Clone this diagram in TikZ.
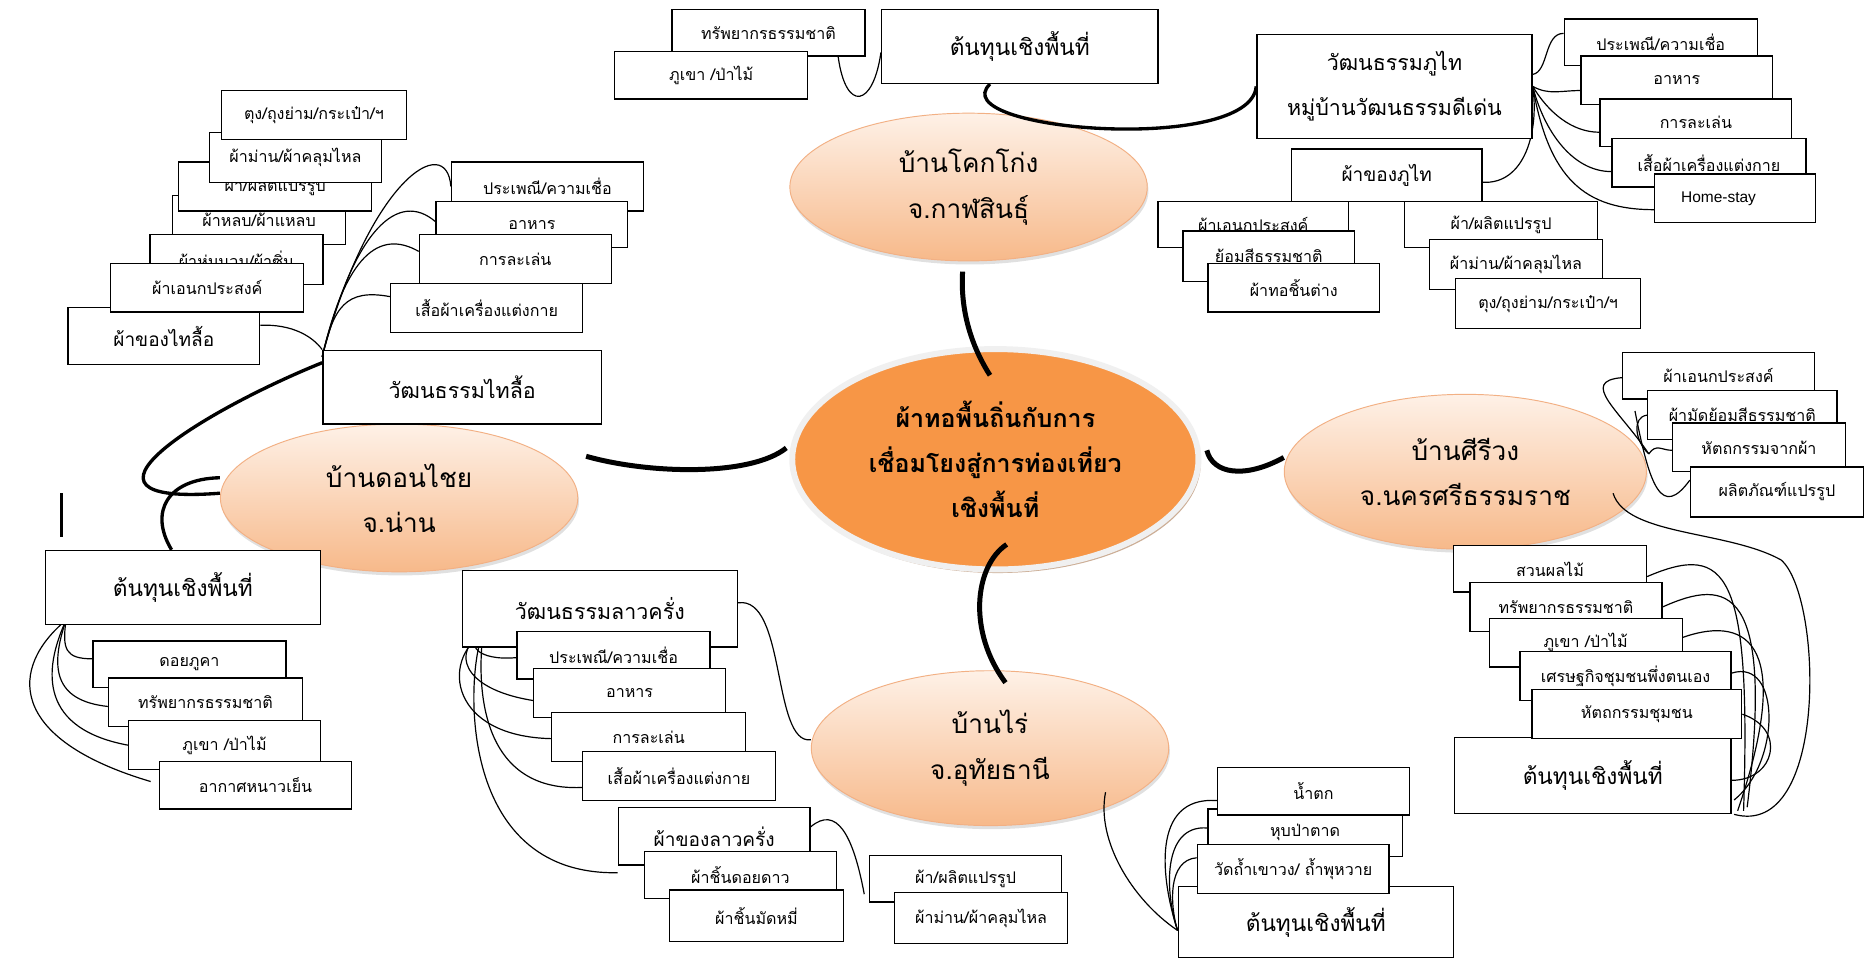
\documentclass[tikz,border=0pt]{standalone}
\usepackage{fontspec}
\usetikzlibrary{shapes.geometric,shadows}
\newfontfamily\thai[Script=Thai]{Loma}
\newfontfamily\lat{Liberation Sans}
\definecolor{peachtop}{HTML}{FEF1E7}
\definecolor{peachbot}{HTML}{F7B98A}
\definecolor{peachline}{HTML}{F2B084}
\definecolor{ctrorange}{HTML}{F79646}
\definecolor{ringc}{HTML}{F0F0F0}
\definecolor{shad}{HTML}{C09A7C}
\pgfdeclarelayer{bgw}
\pgfdeclarelayer{ell}
\pgfdeclarelayer{con}
\pgfsetlayers{bgw,ell,con,main}
\newcommand\bx[7][]{\node[box,minimum width={#4-#2},minimum height={#5-#3},#1] (#7) at ({(#2+#4)/2},{(#3+#5)/2}) {#6};}
\tikzset{
  box/.style={draw=black,line width=1.1pt,fill=white,inner sep=0pt,font=\thai\fontsize{13.5}{16}\selectfont},
  bigt/.style={font=\thai\fontsize{19}{24}\selectfont},
  midt/.style={font=\thai\fontsize{16}{20}\selectfont},
  cult/.style={font=\thai\fontsize{18}{38}\selectfont,align=center},
  peach/.style={ellipse,draw=peachline,line width=0.8pt,top color=peachtop,bottom color=peachbot,inner sep=0pt,align=center,font=\thai\fontsize{22}{38}\selectfont,drop shadow={shadow xshift=1pt,shadow yshift=-3pt,fill=black,opacity=0.12}},
  ctrell/.style={ellipse,fill=ctrorange,draw=ringc,line width=5pt,inner sep=0pt,align=center,font=\thai\bfseries\fontsize{21}{38}\selectfont,drop shadow={shadow xshift=2pt,shadow yshift=-3pt,fill=shad,opacity=0.8}},
  thn/.style={draw=black,line width=1pt},
  thk/.style={draw=black,line width=4.2pt},
  mthk/.style={draw=black,line width=2.8pt},
}
\begin{document}
\begin{tikzpicture}[x=1pt,y=-1pt]
\useasboundingbox (0,0) rectangle (1568,806);
\begin{pgfonlayer}{bgw}
\fill[white] (0,0) rectangle (1568,806);
\end{pgfonlayer}
\begin{pgfonlayer}{ell}
\node[peach,minimum width=300,minimum height=124] (kok) at (813,157) {บ้านโคกโก่ง\\จ.กาฬสินธุ์};
\node[peach,minimum width=300,minimum height=124] (don) at (335,418) {บ้านดอนไชย\\จ.น่าน};
\node[peach,minimum width=304,minimum height=130] (kir) at (1230,396) {บ้านศีรีวง\\จ.นครศรีธรรมราช};
\node[peach,minimum width=300,minimum height=130] (rai) at (831,628) {บ้านไร่\\จ.อุทัยธานี};
\node[ctrell,minimum width=341,minimum height=185] (ctr) at (835.5,385.5) {ผ้าทอพื้นถิ่นกับการ\\เชื่อมโยงสู่การท่องเที่ยว\\เชิงพื้นที่};
\end{pgfonlayer}
% ---- top group (Khok Kong)
\bx[bigt]{740}{8}{972}{70}{ต้นทุนเชิงพื้นที่}{kcap}
\bx{564}{8}{726}{47}{ทรัพยากรธรรมชาติ}{kres}
\bx{516}{43}{678}{83}{ภูเขา /ป่าไม้}{kmtn}
\bx[cult]{1055}{29}{1286}{116}{วัฒนธรรมภูไท\\หมู่บ้านวัฒนธรรมดีเด่น}{kcul}
\bx{1313}{16}{1475}{55}{ประเพณี/ความเชื่อ}{kc1}
\bx{1327}{47}{1488}{88}{อาหาร}{kc2}
\bx{1343}{83}{1504}{123}{การละเล่น}{kc3}
\bx{1353}{116}{1516}{157}{เสื้อผ้าเครื่องแต่งกาย}{kc4}
\bx{1389}{146}{1524}{187}{{\lat\fontsize{13}{16}\selectfont Home-stay}\hspace*{28pt}}{kc5}
\bx[midt]{1084}{125}{1244}{169}{ผ้าของภูไท}{kfab}
\bx{972}{169}{1132}{208}{ผ้าเอนกประสงค์}{kf1}
\bx{993}{194}{1137}{236}{ย้อมสีธรรมชาติ}{kf2}
\bx{1014}{221}{1158}{262}{ผ้าทอชิ้นต่าง}{kf3}
\bx{1179}{169}{1341}{208}{ผ้า/ผลิตแปรรูป}{kp1}
\bx{1200}{201}{1345}{243}{ผ้าม่าน/ผ้าคลุมไหล}{kp2}
\bx{1222}{234}{1377}{276}{ตุง/ถุงย่าม/กระเป๋า/ฯ}{kp3}
% ---- left group (Don Chai)
\bx[cult]{271}{294}{505}{356}{วัฒนธรรมไทลื้อ}{dcul}
\bx{379}{136}{540}{177}{ประเพณี/ความเชื่อ}{dc1}
\bx{366}{169}{527}{208}{อาหาร}{dc2}
\bx{352}{197}{513}{238}{การละเล่น}{dc3}
\bx{328}{238}{489}{279}{เสื้อผ้าเครื่องแต่งกาย}{dc4}
\bx{145}{164}{290}{205}{ผ้าหลบ/ผ้าแหลบ}{d5}
\bx{150}{136}{312}{177}{ผ้า/ผลิตแปรรูป}{d4}
\bx{176}{111}{320}{153}{ผ้าม่าน/ผ้าคลุมไหล}{d3}
\bx{186}{76}{341}{117}{ตุง/ถุงย่าม/กระเป๋า/ฯ}{d2}
\bx{126}{197}{271}{239}{ผ้าห่มนวม/ผ้าซิ่น}{d6}
\bx[midt]{57}{258}{218}{306}{ผ้าของไทลื้อ}{dfab}
\bx{93}{221}{255}{262}{ผ้าเอนกประสงค์}{d7}
\bx[bigt]{38}{462}{269}{524}{ต้นทุนเชิงพื้นที่}{dcap}
\bx{78}{538}{240}{577}{ดอยภูคา}{dd1}
\bx{91}{569}{254}{610}{ทรัพยากรธรรมชาติ}{dd2}
\bx{108}{605}{269}{646}{ภูเขา /ป่าไม้}{dd3}
\bx{134}{639}{295}{679}{อากาศหนาวเย็น}{dd4}
\coordinate (bar1) at (52,414);
\coordinate (bar2) at (52,451);
\draw[line width=2.5pt] (bar1) -- (bar2);
% ---- bottom group (Ban Rai)
\bx[cult]{388}{479}{619}{543}{วัฒนธรรมลาวครั่ง}{lcul}
\bx{434}{530}{596}{570}{ประเพณี/ความเชื่อ}{lc1}
\bx{448}{561}{609}{602}{อาหาร}{lc2}
\bx{463}{598}{626}{639}{การละเล่น}{lc3}
\bx{489}{631}{651}{672}{เสื้อผ้าเครื่องแต่งกาย}{lc4}
\bx[midt]{519}{678}{680}{726}{ผ้าของลาวครั่ง}{lfab}
\bx{541}{715}{702}{754}{ผ้าชิ้นดอยดาว}{lf1}
\bx{562}{747}{708}{790}{ผ้าชิ้นมัดหมี่}{lf2}
\bx{730}{718}{891}{757}{ผ้า/ผลิตแปรรูป}{lp1}
\bx{751}{749}{896}{792}{ผ้าม่าน/ผ้าคลุมไหล}{lp2}
\bx[bigt]{989}{744}{1220}{804}{ต้นทุนเชิงพื้นที่}{rcap}
\bx{1014}{679}{1177}{719}{หุบป่าตาด}{rr2}
\bx{1022}{644}{1183}{684}{น้ำตก}{rr1}
\bx{1005}{709}{1166}{750}{วัดถ้ำเขาวง/ ถ้ำพุหวาย}{rr3}
% ---- right group (Khiriwong)
\bx{1362}{296}{1523}{335}{ผ้าเอนกประสงค์}{ki1}
\bx{1383}{328}{1542}{369}{ผ้ามัดย้อมสีธรรมชาติ}{ki2}
\bx{1404}{355}{1549}{396}{หัตถกรรมจากผ้า}{ki3}
\bx{1419}{392}{1564}{434}{ผลิตภัณฑ์แปรรูป}{ki4}
\bx[bigt]{1221}{619}{1453}{683}{ต้นทุนเชิงพื้นที่}{icap}
\bx{1220}{458}{1382}{497}{สวนผลไม้}{ir1}
\bx{1234}{489}{1395}{530}{ทรัพยากรธรรมชาติ}{ir2}
\bx{1250}{519}{1412}{560}{ภูเขา /ป่าไม้}{ir3}
\bx{1276}{547}{1453}{588}{เศรษฐกิจชุมชนพึ่งตนเอง}{ir4}
\bx{1286}{579}{1462}{620}{หัตถกรรมชุมชน}{ir5}
% ---- connectors
\begin{pgfonlayer}{con}
% main thick
\draw[thk] ([xshift=-4.5pt,yshift=-24.5pt]ctr.north) .. controls (815,290) and (806,260) .. ([xshift=-5pt,yshift=-8.6pt]kok.south);
\draw[thk] ([xshift=-2.5pt,yshift=9.5pt]ctr.west) .. controls (630,400) and (545,398) .. ([xshift=6.6pt,yshift=35pt]don.east);
\draw[thk] ([xshift=4.5pt,yshift=7.5pt]ctr.east) .. controls (1018,398) and (1045,402) .. ([yshift=12pt]kir.west);
\draw[thk] ([xshift=9.5pt,yshift=23.5pt]ctr.south) .. controls (818,475) and (812,530) .. ([xshift=13pt,yshift=-10.4pt]rai.north);
% top group
\draw[thn] ([xshift=-23pt]kres.south east) .. controls (710,95) and (733,90) .. ([yshift=-5pt]kcap.west);
\draw[mthk] ([xshift=-25pt]kcap.south) .. controls (790,110) and (1050,130) .. (kcul.west);
\draw[thn] ([yshift=10pt]kcul.east) .. controls (1300,60) and (1296,28) .. ([yshift=7.5pt]kc1.west);
\draw[thn] (kcul.east) .. controls (1300,80) and (1310,76) .. ([yshift=-8.5pt]kc2.west);
\draw[thn] (kcul.east) .. controls (1300,95) and (1320,111) .. ([yshift=-8pt]kc3.west);
\draw[thn] (kcul.east) .. controls (1296,110) and (1320,144) .. ([yshift=-7.5pt]kc4.west);
\draw[thn] (kcul.east) .. controls (1300,150) and (1330,176) .. ([yshift=-9.5pt]kc5.west);
\draw[thn] ([yshift=-6pt]kfab.east) .. controls (1280,155) and (1292,110) .. (kcul.east);
% left group
\draw[thn] ([yshift=-6pt]dcul.north west) .. controls (310,150) and (375,110) .. (dc1.west);
\draw[thn] ([yshift=-6pt]dcul.north west) .. controls (298,190) and (335,160) .. ([yshift=2.5pt]dc2.west);
\draw[thn] ([yshift=-6pt]dcul.north west) .. controls (290,215) and (318,192) .. ([yshift=6.5pt]dc3.west);
\draw[thn] ([yshift=-6pt]dcul.north west) .. controls (280,258) and (290,242) .. ([yshift=9.5pt]dc4.west);
\draw[thn] ([yshift=9pt]dfab.east) .. controls (245,272) and (262,282) .. (dcul.north west);
\draw[mthk] ([yshift=-11pt]dcul.north west) .. controls (170,345) and (40,425) .. ([yshift=4pt]don.west);
\draw[mthk] ([yshift=17pt]don.west) .. controls (140,402) and (125,430) .. ([xshift=-9.5pt]dcap.north);
\draw[thn] ([xshift=18pt,yshift=4pt]dcap.south west) .. controls (52,545) and (55,553) .. ([yshift=4.5pt]dd1.west);
\draw[thn] ([xshift=18pt,yshift=4pt]dcap.south west) .. controls (42,560) and (45,588) .. ([yshift=-3.5pt]dd2.west);
\draw[thn] ([xshift=18pt,yshift=4pt]dcap.south west) .. controls (35,565) and (35,612) .. (dd3.west);
\draw[thn] ([xshift=18pt,yshift=4pt]dcap.south west) .. controls (8,560) and (5,620) .. ([xshift=-7pt,yshift=3pt]dd4.west);
% bottom group
\draw[thn] ([yshift=5pt]lcul.east) .. controls (660,500) and (648,625) .. ([yshift=7pt]rai.west);
\draw[thn] ([yshift=8pt]lfab.east) .. controls (702,676) and (716,700) .. ([xshift=-4pt,yshift=7pt]lp1.south west);
\draw[thn] ([xshift=18pt,yshift=12pt]lcul.south west) .. controls (390,540) and (400,555) .. ([yshift=-2pt]lc1.west);
\draw[thn] ([xshift=18pt,yshift=12pt]lcul.south west) .. controls (380,545) and (385,578) .. ([yshift=-6.5pt]lc2.west);
\draw[thn] ([xshift=18pt,yshift=12pt]lcul.south west) .. controls (370,555) and (378,618) .. ([yshift=-1.5pt]lc3.west);
\draw[thn] ([xshift=18pt,yshift=12pt]lcul.south west) .. controls (402,560) and (395,665) .. ([yshift=-9.5pt]lc4.west);
\draw[thn] ([xshift=18pt,yshift=12pt]lcul.south west) .. controls (392,560) and (380,735) .. ([yshift=-6pt]lfab.south west);
\draw[thn] ([yshift=-7pt]rcap.west) .. controls (975,740) and (965,668) .. ([yshift=-8pt]rr1.west);
\draw[thn] ([yshift=-7pt]rcap.west) .. controls (978,750) and (975,692) .. ([yshift=4pt]rr2.west);
\draw[thn] ([yshift=-7pt]rcap.west) .. controls (982,760) and (980,722) .. ([yshift=9.5pt]rr3.west);
\draw[thn] ([xshift=97pt,yshift=-37pt]rai.center) .. controls (920,705) and (950,755) .. ([yshift=-7pt]rcap.west);
% right group
\draw[thn] ([xshift=1.6pt,yshift=15pt]kir.east) .. controls (1360,345) and (1325,320) .. ([yshift=-1.5pt]ki1.west);
\draw[thn] ([xshift=1.6pt,yshift=15pt]kir.east) .. controls (1372,370) and (1370,350) .. (ki2.west);
\draw[thn] ([xshift=1.6pt,yshift=15pt]kir.east) .. controls (1390,372) and (1395,378) .. ([yshift=-2.5pt]ki3.west);
\draw[thn] ([xshift=-10pt,yshift=51pt]kir.east) .. controls (1385,410) and (1395,435) .. ([yshift=10pt]ki4.west);
\draw[thn] ([yshift=-6.5pt]ir1.east) .. controls (1450,455) and (1470,480) .. ([xshift=10pt,yshift=3pt]icap.south east);
\draw[thn] (ir2.east) .. controls (1450,485) and (1490,490) .. ([xshift=13pt,yshift=6pt]icap.south east);
\draw[thn] ([yshift=4.5pt]ir3.east) .. controls (1470,515) and (1505,545) .. ([xshift=5pt,yshift=3pt]icap.south east);
\draw[thn] ([yshift=2.5pt]ir4.east) .. controls (1495,552) and (1495,640) .. ([xshift=2pt,yshift=12pt]icap.south east);
\draw[thn] (ir5.east) .. controls (1500,612) and (1490,655) .. ([yshift=-4pt]icap.east);
\draw[thn] ([xshift=124pt,yshift=-18pt]kir.center) .. controls (1365,450) and (1450,445) .. (1495,470) .. controls (1530,500) and (1535,705) .. ([xshift=2pt]icap.south east);
\end{pgfonlayer}
\end{tikzpicture}
\end{document}
